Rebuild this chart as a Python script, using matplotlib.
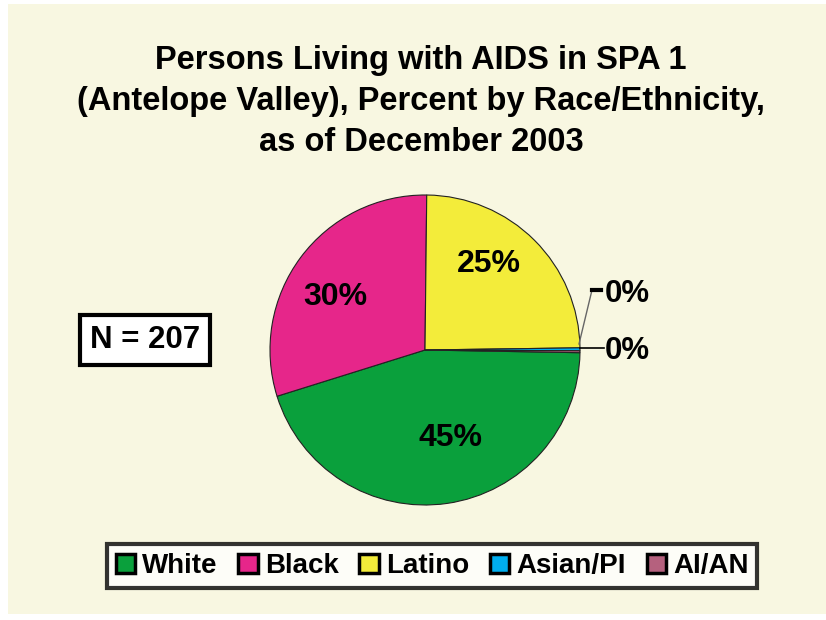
#!/usr/bin/env python3
"""Pie chart: persons living with AIDS in SPA 1 by race/ethnicity."""

import numpy as np
import matplotlib

matplotlib.use("Agg")
import matplotlib.pyplot as plt
from matplotlib.patches import Patch, Rectangle

plt.rcParams["font.family"] = ["Liberation Sans", "DejaVu Sans"]
plt.rcParams["font.weight"] = "bold"

CATEGORIES = ["White", "Black", "Latino", "Asian/PI", "AI/AN"]
PERCENTS = [44.9, 30.0, 24.6, 0.3, 0.2]
COLORS = ["#0aa03c", "#e6268a", "#f3ec3a", "#00aeef", "#b5617e"]
N_TOTAL = 207

TITLE = ("Persons Living with AIDS in SPA 1\n"
         "(Antelope Valley), Percent by Race/Ethnicity,\n"
         "as of December 2003")

W, H = 826, 620
fig = plt.figure(figsize=(W / 100, H / 100), dpi=100)
fig.patch.set_facecolor("white")
ax = fig.add_axes([0, 0, 1, 1])

# cream panel
ax.add_patch(Rectangle((8, 6), W - 8, H - 10, facecolor="#f8f7e1", edgecolor="none", zorder=0))

cx, cy, r = 425, H - 350, 155
wedges, _ = ax.pie(PERCENTS, colors=COLORS, startangle=-1, counterclock=False,
                   center=(cx, cy), radius=r, frame=True,
                   wedgeprops=dict(edgecolor="#222222", linewidth=0.8))
ax.set_xlim(0, W)
ax.set_ylim(0, H)
ax.set_aspect("equal")
ax.axis("off")

# labels inside big slices (distance as fraction of radius, angle nudge in degrees)
label_place = [(0.59, 8), (0.67, 6), (0.69, 8)]
for w, (d, nudge), p in zip(wedges[:3], label_place, PERCENTS[:3]):
    mid = np.deg2rad((w.theta1 + w.theta2) / 2 + nudge)
    ax.text(cx + d * r * np.cos(mid), cy + d * r * np.sin(mid), f"{round(p)}%",
            ha="center", va="center", fontsize=23)

# small slices with leader lines
ax.plot([cx + r - 1, cx + r + 12, cx + r + 18], [cy + 6, cy + 60, cy + 60],
        color="#666666", lw=1)
ax.plot([cx + r + 12, cx + r + 21], [cy + 60, cy + 60], color="black", lw=3)
ax.text(cx + r + 25, cy + 56, f"{round(PERCENTS[3])}%", ha="left", va="center", fontsize=22.5)
ax.plot([cx + r, cx + r + 24], [cy + 2, cy + 2], color="black", lw=1.2)
ax.text(cx + r + 25, cy - 1, f"{round(PERCENTS[4])}%", ha="left", va="center", fontsize=22.5)

ax.text(421, H - 45, TITLE, ha="center", va="top", fontsize=23.5, linespacing=1.42)

ax.text(145, H - 340, f"N = {N_TOTAL}", ha="center", va="center", fontsize=22.5,
        bbox=dict(boxstyle="square,pad=0.33", facecolor="white", edgecolor="black", linewidth=3))

handles = [Patch(facecolor=c, edgecolor="black", linewidth=2.5) for c in COLORS]
leg = ax.legend(handles, CATEGORIES, loc="center", bbox_to_anchor=(432 / W, 1 - 566 / H),
                ncol=5, frameon=True, fancybox=False, handlelength=0.7, handleheight=0.7,
                handletextpad=0.25, columnspacing=0.75, borderpad=0.32, borderaxespad=0,
                prop=dict(size=20, weight="bold"))
leg.get_frame().set_edgecolor("black")
leg.get_frame().set_linewidth(3)

fig.savefig("out.png", dpi=100)
